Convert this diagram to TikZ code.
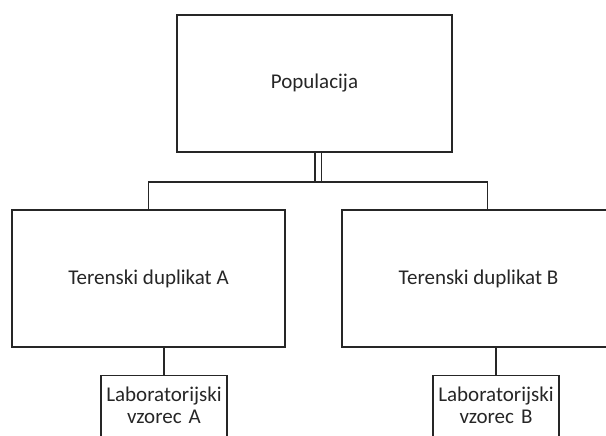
\documentclass[tikz,border=0pt]{standalone}
\usepackage{fontspec}
\setmainfont{Carlito}
\usepackage{tikz}
\usetikzlibrary{calc, positioning}

\begin{document}
\begin{tikzpicture}[x=1pt, y=-1pt, line width=1.4pt, draw=black!85]
\tikzstyle{pop_box}=[rectangle, draw, inner sep=0pt, minimum width=275pt,
	minimum height=137pt, font=\fontsize{21}{22}\selectfont, text=black!85]
\tikzstyle{dup_box}=[pop_box, minimum width=273pt]
\tikzstyle{lab_box}=[rectangle, draw, inner sep=0pt, anchor=north, text width=126pt,
	align=center, text height=26pt, text depth=44pt,
	font=\fontsize{21}{22}\selectfont, text=black!85]

\useasboundingbox (0,0) rectangle (606,436);
\clip (0,0) rectangle (606,436);

\node at (314.5,83.5) [pop_box] (Pop) {Populacija};
\node at (148.5,278.5) [dup_box] (DupA) {Terenski duplikat A};
\node at (478.5,278.5) [dup_box] (DupB) {Terenski duplikat B};
\node at (164,375) [lab_box] (LabA) {Laboratorijski\\vzorec A};
\node at (496,375) [lab_box] (LabB) {Laboratorijski\\vzorec B};

\coordinate (Split) at (318,182);
\draw[double, double distance=5pt] (Pop.south -| Split) -- (Split);
\draw (DupA.north) |- (Split) -| ($(DupB.north)+(9,0)$);
\draw (LabA.north) -- (LabA.north |- DupA.south);
\draw (LabB.north) -- (LabB.north |- DupB.south);

\end{tikzpicture}
\end{document}
